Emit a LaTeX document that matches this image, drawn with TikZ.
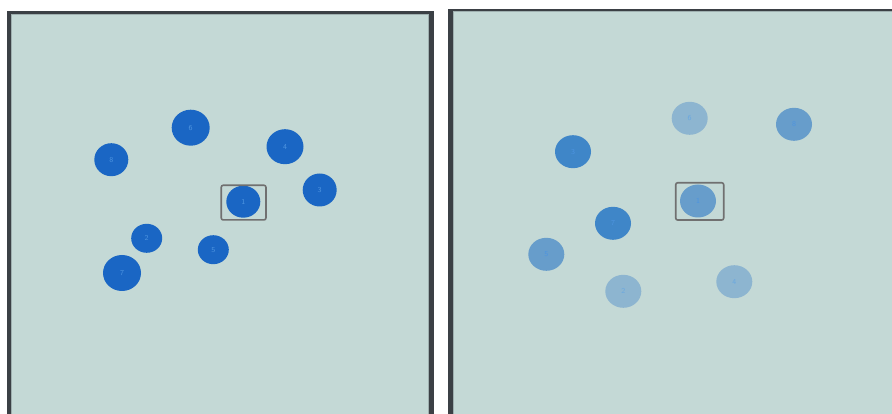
\documentclass[tikz,border=0pt]{standalone}
\usepackage{tikz}
\usetikzlibrary{shapes.geometric}
\definecolor{bgc}{HTML}{C4D9D6}
\definecolor{framec}{HTML}{3B4045}
\definecolor{edgec}{HTML}{9FB0B0}
\definecolor{darkblue}{HTML}{1A66C4}
\definecolor{midblue}{HTML}{3F86C8}
\definecolor{softblue}{HTML}{679DCB}
\definecolor{paleblue}{HTML}{8DB5D0}
\definecolor{labelc}{HTML}{4D94E0}
\definecolor{palelabel}{HTML}{6AA8E0}
\definecolor{boxc}{HTML}{707070}
\tikzset{
  dot/.style={ellipse, draw=none, inner sep=0pt, text=labelc, font=\fontsize{7.5}{8}\selectfont\sffamily},
  selbox/.style={draw=boxc, line width=1.6pt, rounded corners=2pt, fill=none}
}
\begin{document}
\begin{tikzpicture}[x=1pt,y=-1pt]
\useasboundingbox (0,0) rectangle (892,414);
\fill[white] (0,0) rectangle (892,414);
% left panel
\fill[framec] (7,11) rectangle (433.5,420);
\fill[edgec] (10.5,14.5) rectangle (429,420);
\fill[bgc] (11.5,15.5) rectangle (428,420);
% right panel
\fill[framec] (448,9.5) rectangle (900,420);
\fill[edgec] (452.5,11.5) rectangle (900,420);
\fill[bgc] (454,12.5) rectangle (900,420);
% left circles
\node[dot, fill=darkblue, minimum width=38pt, minimum height=36pt] (l6) at (190.7,127.7) {6};
\node[dot, fill=darkblue, minimum width=34pt, minimum height=33pt] (l8) at (111.3,159.7) {8};
\node[dot, fill=darkblue, minimum width=37pt, minimum height=35pt] (l4) at (285,146.7) {4};
\node[dot, fill=darkblue, minimum width=34pt, minimum height=33pt] (l3) at (319.7,190) {3};
\node[dot, fill=darkblue, minimum width=34pt, minimum height=32pt] (l1) at (243.3,201.7) {1};
\node[dot, fill=darkblue, minimum width=31pt, minimum height=29pt] (l2) at (146.7,238.3) {2};
\node[dot, fill=darkblue, minimum width=31pt, minimum height=29pt] (l5) at (213.3,249.7) {5};
\node[dot, fill=darkblue, minimum width=38pt, minimum height=36pt] (l7) at (122,273) {7};
\node[selbox, minimum width=44.7pt, minimum height=34.7pt] (lbox) at (243.6,202.6) {};
% right circles
\node[dot, fill=paleblue, text=palelabel, minimum width=36pt, minimum height=33pt] (r6) at (689.7,118.3) {6};
\node[dot, fill=softblue, minimum width=36pt, minimum height=33pt] (r8) at (794,124.3) {8};
\node[dot, fill=midblue, minimum width=36pt, minimum height=33pt] (r3) at (573,151.7) {3};
\node[dot, fill=softblue, minimum width=36pt, minimum height=33pt] (r1) at (698,201) {1};
\node[dot, fill=midblue, minimum width=36pt, minimum height=33pt] (r7) at (613,223.3) {7};
\node[dot, fill=softblue, minimum width=36pt, minimum height=33pt] (r5) at (546.3,254.3) {5};
\node[dot, fill=paleblue, text=palelabel, minimum width=36pt, minimum height=33pt] (r2) at (623.3,291.3) {2};
\node[dot, fill=paleblue, text=palelabel, minimum width=36pt, minimum height=33pt] (r4) at (734.3,281.7) {4};
\node[selbox, minimum width=48pt, minimum height=37.3pt] (rbox) at (699.7,201.4) {};
\end{tikzpicture}
\end{document}
